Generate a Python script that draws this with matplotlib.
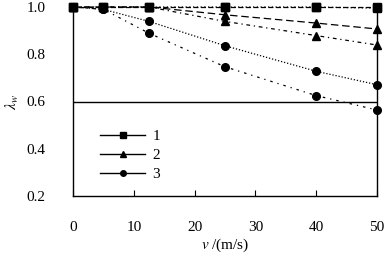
import matplotlib
matplotlib.use("Agg")
import matplotlib.pyplot as plt
from matplotlib.lines import Line2D

plt.rcParams['font.family'] = ['Liberation Serif', 'DejaVu Serif']
plt.rcParams['mathtext.fontset'] = 'stix'

speed = [0, 5, 12.5, 25, 40, 50]
s1a = [1.0, 1.0, 1.0, 1.0, 1.0, 1.0]
s1b = [1.0, 1.0, 1.0, 1.0, 1.0, 0.995]
s2a = [1.0, 1.0, 1.0, 0.967, 0.932, 0.907]
s2b = [1.0, 1.0, 1.0, 0.939, 0.879, 0.839]
s3a = [1.0, 0.99, 0.939, 0.836, 0.728, 0.671]
s3b = [1.0, 0.99, 0.889, 0.747, 0.625, 0.564]
ref_level = 0.6
legend_labels = ['1', '2', '3']
xticks = [0, 10, 20, 30, 40, 50]
yticks = [0.2, 0.4, 0.6, 0.8, 1.0]

fig = plt.figure(figsize=(3.86, 2.57), dpi=100)
ax = fig.add_axes([73/386, 1 - 196/257, (377-73)/386, (196-7)/257])

lw = 0.9
ax.plot(speed, s1a, color='k', lw=lw, ls=(0, (4, 2)), marker='s', ms=5.5, clip_on=False)
ax.plot(speed, s1b, color='k', lw=lw, ls=(0, (1, 2)), marker='s', ms=5.5, clip_on=False)
ax.plot(speed, s2a, color='k', lw=lw, ls=(0, (6, 3)), marker='^', ms=5.5, clip_on=False)
ax.plot(speed, s2b, color='k', lw=lw, ls=(0, (3, 3, 1, 3)), marker='^', ms=5.5, clip_on=False)
ax.plot(speed, s3a, color='k', lw=lw, ls=(0, (1, 1.5)), marker='o', ms=5.5, clip_on=False)
ax.plot(speed, s3b, color='k', lw=lw, ls=(0, (1, 4, 2, 4)), marker='o', ms=5.5, clip_on=False)
ax.axhline(ref_level, color='k', lw=1.0)

ax.set_xlim(0, 50)
ax.set_ylim(0.2, 1.0)
ax.set_xticks(xticks)
ax.set_yticks(yticks)
ax.set_xticklabels([str(t) for t in xticks])
ax.set_yticklabels([f"{t:.1f}" for t in yticks])
ax.tick_params(axis='x', direction='in', length=4, width=0.8, pad=18, labelsize=11)
ax.tick_params(axis='y', length=0, pad=20, labelsize=11)
ax.spines['top'].set_visible(False)
for s in ['left', 'bottom', 'right']:
    ax.spines[s].set_linewidth(1.0)

ax.set_xlabel(r'$v$ /(m/s)', fontsize=11, labelpad=2)
ax.set_ylabel(r'$\lambda_w$', fontsize=11, labelpad=4)

handles = [Line2D([], [], color='k', lw=1, marker=m, ms=ms)
           for m, ms in zip(['s', '^', 'o'], [4, 4, 4])]
ax.legend(handles, legend_labels, loc='upper left', bbox_to_anchor=(0.07, 0.385),
          frameon=False, fontsize=11, handlelength=2.9, handletextpad=0.5,
          labelspacing=0.35, borderaxespad=0)

fig.savefig('out.png', dpi=100)
